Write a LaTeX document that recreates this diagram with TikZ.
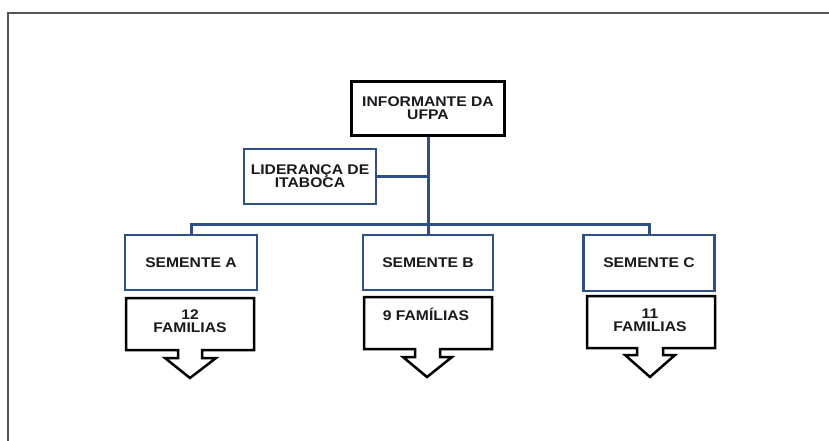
\documentclass[tikz,border=0pt]{standalone}
\usepackage{fontspec}
\setmainfont{Liberation Sans}[FakeStretch=1.12]
\definecolor{boxblue}{RGB}{46,80,130}
\definecolor{framegray}{RGB}{85,85,85}
\definecolor{txt}{RGB}{25,25,30}
\begin{document}
\begin{tikzpicture}[x=1pt,y=-1pt,
  lbl/.style={font=\bfseries\fontsize{14}{13}\selectfont, text=txt, align=center, inner sep=0pt},
  bluebox/.style={lbl, draw=boxblue, line width=2.6pt, fill=white},
  blackbox/.style={lbl, draw=black, line width=3pt, fill=white},
  conn/.style={draw=boxblue, line width=3pt},
  callout/.style={draw=black, line width=2.5pt, line join=miter}]
\useasboundingbox (0,0) rectangle (829,441);
\fill[white] (0,0) rectangle (829,441);
\draw[framegray, line width=2pt] (829,13) -- (8,13) -- (8,441);

% connectors first
\coordinate (bus) at (428,224);
\node[blackbox, minimum width=153pt, minimum height=53pt] (INF) at (428,108.5) {};
\node[bluebox, minimum width=132pt, minimum height=55pt] (LID) at (310,176.5) {};
\node[bluebox, minimum width=132pt, minimum height=55pt] (SA) at (191,262.5) {};
\node[bluebox, minimum width=130pt, minimum height=55pt] (SB) at (428,262.5) {};
\node[bluebox, minimum width=131pt, minimum height=56pt] (SC) at (649,263) {};
\path[conn] (INF.south) -- (SB.north);
\path[conn] (LID.east) -- (LID.east -| INF.south);
\path[conn] (SA.north) |- (bus) -| (SC.north);

% boxes redrawn on top with text
\node[blackbox, minimum width=153pt, minimum height=53pt] at (INF) {INFORMANTE DA\\UFPA};
\node[bluebox, minimum width=132pt, minimum height=55pt] at (LID) {LIDERANÇA DE\\ITABOCA};
\node[bluebox, minimum width=132pt, minimum height=55pt] at (SA) {SEMENTE A};
\node[bluebox, minimum width=130pt, minimum height=55pt] at (SB) {SEMENTE B};
\node[bluebox, minimum width=131pt, minimum height=56pt] at (SC) {SEMENTE C};

% down-arrow callouts
\draw[callout] (126,298) -- (254,298) -- (254,350) -- (202,350) -- (202,358) -- (216,358) -- (190,378) -- (165,358) -- (178,358) -- (178,350) -- (126,350) -- cycle;
\draw[callout] (364,297) -- (492,297) -- (492,349) -- (440,349) -- (440,357) -- (452,357) -- (427,377) -- (403,357) -- (415,357) -- (415,349) -- (364,349) -- cycle;
\draw[callout] (587,296) -- (715,296) -- (715,348) -- (663,348) -- (663,355) -- (675,355) -- (650,377) -- (625,355) -- (637,355) -- (637,348) -- (587,348) -- cycle;
\node[lbl] (FA) at (190,321.5) {12\\FAMILIAS};
\node[lbl] (FB) at (426,314) {9 FAMÍLIAS};
\node[lbl] (FC) at (650,320) {11\\FAMILIAS};
\end{tikzpicture}
\end{document}
